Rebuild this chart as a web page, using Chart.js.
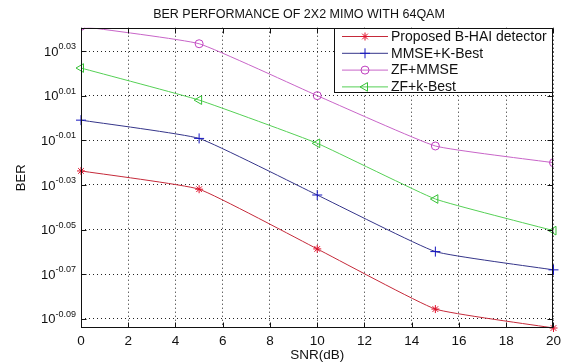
<!DOCTYPE html>
<html>
<head>
<meta charset="utf-8">
<script src="https://cdn.jsdelivr.net/npm/chart.js@4.4.1/dist/chart.umd.min.js"></script>
<style>
  html, body { margin: 0; padding: 0; background: #fff; }
  canvas { display: block; }
</style>
</head>
<body>
<canvas id="ber" width="566" height="363"></canvas>
<script>
// SNR points (dB)
const snr = [0, 5, 10, 15, 20];

// BER, kept as log10 exponents (the axis is labelled 10^x)
const proposedBHai = [-0.0237, -0.0319, -0.0587, -0.0857, -0.0942];
const mmseKBest    = [-0.0009, -0.0091, -0.0345, -0.0599, -0.0681];
const zfMmse       = [ 0.0412,  0.0334,  0.0101, -0.0125, -0.0200];
const zfKBest      = [ 0.0225,  0.0081, -0.0113, -0.0363, -0.0505];

const seriesNames = ['Proposed B-HAI detector', 'MMSE+K-Best', 'ZF+MMSE', 'ZF+k-Best'];

// y tick exponents and axis limits
const yTickExps = [-0.09, -0.07, -0.05, -0.03, -0.01, 0.01, 0.03];
const yMin = -0.0942;
const yMax = 0.0406;

const FONT = "'Liberation Sans', Arial, sans-serif";

function series(label, values, line, marker, style, radius, rotation) {
    return {
        label: label,
        data: snr.map((x, i) => ({ x: x, y: values[i] })),
        borderColor: line,
        borderWidth: 1,
        pointStyle: style,
        pointRadius: radius,
        pointRotation: rotation || 0,
        pointBorderColor: marker,
        pointBackgroundColor: 'rgba(0,0,0,0)',
        pointBorderWidth: 1,
        tension: 0.12,
        clip: false
    };
}

const datasets = [
    series(seriesNames[0], proposedBHai, '#c52a3a', '#e0102a', 'star', 4),
    series(seriesNames[1], mmseKBest, '#35358a', '#1515c0', 'cross', 5),
    series(seriesNames[2], zfMmse, '#c865c8', '#c040c0', 'circle', 4),
    series(seriesNames[3], zfKBest, '#55d055', '#35c035', 'triangle', 5, -90)
];
// ZF+MMSE starts just above the top edge; MATLAB hides that marker
datasets[2].clip = 0;

// matlab-style frame, inside ticks, 10^x labels, title and legend
const matlabAxes = {
    id: 'matlabAxes',
    afterDraw(chart) {
        const ctx = chart.ctx;
        const a = chart.chartArea;
        const xs = chart.scales.x, ys = chart.scales.y;
        const L = Math.round(a.left) + 0.5, R = Math.round(a.right) - 0.5;
        const T = Math.round(a.top) + 0.5, B = Math.round(a.bottom) - 0.5;
        ctx.save();
        ctx.strokeStyle = '#111';
        ctx.lineWidth = 1;
        ctx.strokeRect(L, T, R - L, B - T);

        ctx.beginPath();
        for (let v = 0; v <= 20; v += 2) {
            const px = Math.round(xs.getPixelForValue(v)) + 0.5;
            ctx.moveTo(px, B); ctx.lineTo(px, B - 5);
            ctx.moveTo(px, T); ctx.lineTo(px, T + 5);
        }
        yTickExps.forEach(v => {
            const py = Math.round(ys.getPixelForValue(v)) + 0.5;
            ctx.moveTo(L, py); ctx.lineTo(L + 5, py);
            ctx.moveTo(R, py); ctx.lineTo(R - 5, py);
        });
        ctx.stroke();

        // y tick labels: 10 with a raised exponent
        ctx.fillStyle = '#111';
        yTickExps.forEach(v => {
            const py = ys.getPixelForValue(v);
            const exp = v.toFixed(2);
            ctx.font = '9px ' + FONT;
            ctx.textAlign = 'right';
            ctx.textBaseline = 'alphabetic';
            const ew = ctx.measureText(exp).width;
            ctx.fillText(exp, 76, py - 2);
            ctx.font = '13px ' + FONT;
            ctx.textBaseline = 'middle';
            ctx.fillText('10', 76 - ew, py + 1);
        });

        // title
        ctx.font = '12.5px ' + FONT;
        ctx.textAlign = 'center';
        ctx.textBaseline = 'middle';
        ctx.fillText('BER PERFORMANCE OF 2X2 MIMO WITH 64QAM', 299, 14.5);

        // legend box
        const bx = 334.5, by = 28.5, bw = 218, bh = 64;
        ctx.fillStyle = '#fff';
        ctx.fillRect(bx, by, bw, bh);
        ctx.strokeStyle = '#111';
        ctx.strokeRect(bx, by, bw, bh);
        chart.data.datasets.forEach((ds, i) => {
            const ry = 36.5 + i * 16.8;
            ctx.strokeStyle = ds.borderColor;
            ctx.lineWidth = 1;
            ctx.beginPath();
            ctx.moveTo(342, ry); ctx.lineTo(388, ry);
            ctx.stroke();
            ctx.strokeStyle = ds.pointBorderColor;
            ctx.fillStyle = 'rgba(0,0,0,0)';
            Chart.helpers.drawPoint(ctx, {
                pointStyle: ds.pointStyle,
                rotation: ds.pointRotation,
                radius: ds.pointRadius,
                borderWidth: 1
            }, 365, ry);
            ctx.fillStyle = '#111';
            ctx.font = '14px ' + FONT;
            ctx.textAlign = 'left';
            ctx.textBaseline = 'middle';
            ctx.fillText(ds.label, 391, ry + 0.5);
        });
        ctx.restore();
    }
};

new Chart(document.getElementById('ber'), {
    type: 'line',
    data: { datasets: datasets },
    plugins: [matlabAxes],
    options: {
        responsive: false,
        animation: false,
        devicePixelRatio: 1,
        events: [],
        layout: { padding: { top: 27.7, right: 8, left: 0, bottom: 0 } },
        plugins: {
            legend: { display: false },
            title: { display: false },
            tooltip: { enabled: false }
        },
        scales: {
            x: {
                type: 'linear',
                min: 0,
                max: 20,
                afterFit: s => { s.height = 35; },
                ticks: {
                    stepSize: 2,
                    color: '#111',
                    padding: 5,
                    maxRotation: 0,
                    font: { family: FONT, size: 13.5 }
                },
                grid: { color: '#222', lineWidth: 1, drawTicks: false },
                border: { display: false, dash: [1, 3] },
                title: {
                    display: true,
                    text: 'SNR(dB)',
                    color: '#111',
                    padding: { top: 0, bottom: 0 },
                    font: { family: FONT, size: 13.5 }
                }
            },
            y: {
                type: 'linear',
                min: yMin,
                max: yMax,
                afterFit: s => { s.width = 81; },
                afterBuildTicks: s => { s.ticks = yTickExps.map(v => ({ value: v })); },
                ticks: { display: false },
                grid: { color: '#222', lineWidth: 1, drawTicks: false },
                border: { display: false, dash: [1, 3] },
                title: {
                    display: true,
                    text: 'BER',
                    color: '#111',
                    padding: { top: 14, bottom: 0 },
                    font: { family: FONT, size: 13 }
                }
            }
        }
    }
});
</script>
</body>
</html>
